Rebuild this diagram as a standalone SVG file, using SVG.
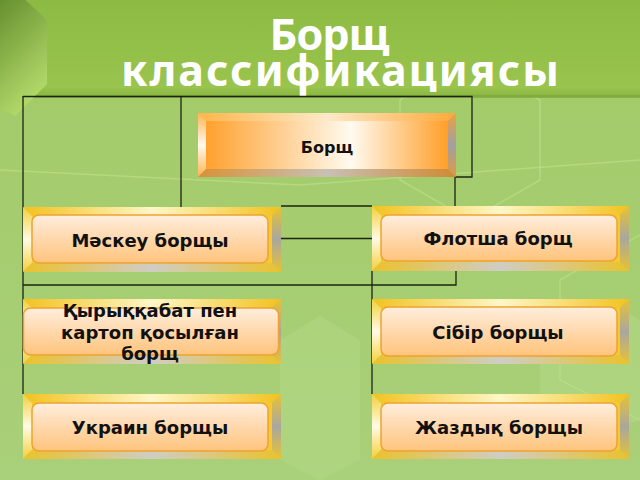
<svg xmlns="http://www.w3.org/2000/svg" width="640" height="480" viewBox="0 0 640 480">
<defs>
<linearGradient id="bg" x1="0" y1="0" x2="0" y2="1"><stop offset="0" stop-color="#a2ca66"/><stop offset="1" stop-color="#a9d07a"/></linearGradient>
<linearGradient id="banner" x1="0" y1="0" x2="0" y2="1"><stop offset="0" stop-color="#8cbb42"/><stop offset="0.9" stop-color="#99c44e"/><stop offset="1" stop-color="#88b440"/></linearGradient>
<linearGradient id="hex" x1="0" y1="0" x2="0.6" y2="1"><stop offset="0" stop-color="#567f22"/><stop offset="1" stop-color="#b2da6a"/></linearGradient>
<linearGradient id="gTop" x1="0" y1="0" x2="1" y2="0"><stop offset="0" stop-color="#f2c21e"/><stop offset="0.5" stop-color="#fff6c8"/><stop offset="1" stop-color="#f2c21e"/></linearGradient>
<linearGradient id="gLeft" x1="0" y1="0" x2="0" y2="1"><stop offset="0" stop-color="#f5cf3a"/><stop offset="0.5" stop-color="#fffbe6"/><stop offset="1" stop-color="#f5cf3a"/></linearGradient>
<linearGradient id="gRight" x1="0" y1="0" x2="0" y2="1"><stop offset="0" stop-color="#e8c233"/><stop offset="0.5" stop-color="#a9a79e"/><stop offset="1" stop-color="#e8c233"/></linearGradient>
<linearGradient id="gBot" x1="0" y1="0" x2="1" y2="0"><stop offset="0" stop-color="#ebc22c"/><stop offset="0.5" stop-color="#cfcdc4"/><stop offset="1" stop-color="#ebc22c"/></linearGradient>
<linearGradient id="peach" x1="0" y1="0" x2="0" y2="1"><stop offset="0" stop-color="#ffeedd"/><stop offset="0.5" stop-color="#ffd8ac"/><stop offset="1" stop-color="#ffc47c"/></linearGradient>
<linearGradient id="oFace" x1="0" y1="0" x2="1" y2="0"><stop offset="0" stop-color="#ffa12e"/><stop offset="0.6" stop-color="#fffaf0"/><stop offset="1" stop-color="#ff9f28"/></linearGradient>
<linearGradient id="oTop" x1="0" y1="0" x2="1" y2="0"><stop offset="0" stop-color="#ffb54a"/><stop offset="0.5" stop-color="#ffe9c8"/><stop offset="1" stop-color="#ffa83a"/></linearGradient>
<linearGradient id="oLeft" x1="0" y1="0" x2="0" y2="1"><stop offset="0" stop-color="#ffb450"/><stop offset="0.5" stop-color="#fff8ee"/><stop offset="1" stop-color="#ffb450"/></linearGradient>
<linearGradient id="oRight" x1="0" y1="0" x2="0" y2="1"><stop offset="0" stop-color="#f0a040"/><stop offset="0.5" stop-color="#a0a0a4"/><stop offset="1" stop-color="#e09a40"/></linearGradient>
<linearGradient id="oBot" x1="0" y1="0" x2="1" y2="0"><stop offset="0" stop-color="#d89238"/><stop offset="0.5" stop-color="#c8c0b4"/><stop offset="1" stop-color="#d08a34"/></linearGradient>
</defs>
<style>
.ln{fill:none;stroke:#1c2410;stroke-width:1.3}
.lbl{font-family:"DejaVu Sans",Verdana,sans-serif;font-weight:bold;font-size:18px;fill:#111;text-anchor:middle}
.lbl16{font-size:16px}
.title{font-family:"Noto Sans","Open Sans",sans-serif;font-weight:bold;font-size:43px;fill:#fff;text-anchor:middle}
.face{fill:#f6c930}
.inner{fill:url(#peach);stroke:#eda233;stroke-width:1.5}
.pat{fill:none;stroke:#c2e08e;stroke-width:1.5;opacity:0.6}
</style>
<rect width="640" height="480" fill="url(#bg)"/>
<g id="pattern">
<polygon class="pat" points="400,100 470,60 540,100 540,180 470,220 400,180"/>
<polygon class="pat" points="560,280 640,235 700,280 700,380 640,420 560,380"/>
<polygon points="280,340 320,316 360,340 360,460 320,480 280,460" fill="#b5d98a" opacity="0.45"/>
<polygon points="540,330 600,300 640,320 640,420 580,440 540,420" fill="#b8dc8e" opacity="0.4"/>
<line class="pat" x1="0" y1="170" x2="300" y2="185"/>
<line class="pat" x1="300" y1="185" x2="640" y2="160"/>
</g>
<rect x="8" y="0" width="632" height="97" fill="url(#banner)"/>
<rect x="8" y="95" width="632" height="3" fill="#7ea53c" opacity="0.7"/>
<polygon points="-25,-5 20,-5 47,20 47,84 15,116 -25,96" fill="url(#hex)"/>
<text class="title" x="329" y="50" letter-spacing="-1">Борщ</text>
<text class="title" x="341" y="86" letter-spacing="2">классификациясы</text>
<g id="connectors">
<path class="ln" d="M23,96.5 H472 V177 H455 V207"/>
<path class="ln" d="M23,96 V394"/>
<path class="ln" d="M181,96 V207"/>
<path class="ln" d="M281,206 H372"/>
<path class="ln" d="M281,238.5 H372"/>
<path class="ln" d="M23,285 H456 V271"/>
<path class="ln" d="M372,271 V394"/>
</g>
<g id="node-borshch" transform="translate(198,113)">
<rect x="8" y="8" width="242" height="48" fill="url(#oFace)"/>
<polygon points="0,0 258,0 250,8 8,8" fill="url(#oTop)"/>
<polygon points="0,0 8,8 8,56 0,64" fill="url(#oLeft)"/>
<polygon points="258,0 258,64 250,56 250,8" fill="url(#oRight)"/>
<polygon points="0,64 258,64 250,56 8,56" fill="url(#oBot)"/>
<text class="lbl lbl16" x="129" y="40">Борщ</text>
</g>
<g id="node-maskeu" transform="translate(23,207)">
<rect class="face" x="9" y="9" width="240" height="47"/>
<polygon points="0,0 258,0 249,9 9,9" fill="url(#gTop)"/>
<polygon points="0,0 9,9 9,56 0,65" fill="url(#gLeft)"/>
<polygon points="258,0 258,65 249,56 249,9" fill="url(#gRight)"/>
<polygon points="0,65 258,65 249,56 9,56" fill="url(#gBot)"/>
<rect class="inner" x="9" y="8" width="236" height="48" rx="7"/>
<text class="lbl" x="127" y="40">Мәскеу борщы</text>
</g>
<g id="node-flotsha" transform="translate(372,206)">
<rect class="face" x="9" y="9" width="240" height="47"/>
<polygon points="0,0 257,0 248,9 9,9" fill="url(#gTop)"/>
<polygon points="0,0 9,9 9,56 0,65" fill="url(#gLeft)"/>
<polygon points="257,0 257,65 248,56 248,9" fill="url(#gRight)"/>
<polygon points="0,65 257,65 248,56 9,56" fill="url(#gBot)"/>
<rect class="inner" x="9" y="9" width="236" height="46" rx="7"/>
<text class="lbl" x="126" y="39">Флотша борщ</text>
</g>
<g id="node-kyrykkabat" transform="translate(23,299)">
<rect class="face" x="9" y="9" width="240" height="47"/>
<polygon points="0,0 258,0 249,9 9,9" fill="url(#gTop)"/>
<polygon points="0,0 9,9 9,56 0,65" fill="url(#gLeft)"/>
<polygon points="258,0 258,65 249,56 249,9" fill="url(#gRight)"/>
<polygon points="0,65 258,65 249,56 9,56" fill="url(#gBot)"/>
<rect class="inner" x="0.5" y="9" width="255" height="47" rx="7"/>
<text class="lbl" x="127" y="18">Қырыққабат пен</text>
<text class="lbl" x="127" y="40">картоп қосылған</text>
<text class="lbl" x="127" y="61">борщ</text>
</g>
<g id="node-sibir" transform="translate(372,299)">
<rect class="face" x="9" y="9" width="240" height="47"/>
<polygon points="0,0 257,0 248,9 9,9" fill="url(#gTop)"/>
<polygon points="0,0 9,9 9,56 0,65" fill="url(#gLeft)"/>
<polygon points="257,0 257,65 248,56 248,9" fill="url(#gRight)"/>
<polygon points="0,65 257,65 248,56 9,56" fill="url(#gBot)"/>
<rect class="inner" x="9" y="8" width="236" height="49" rx="7"/>
<text class="lbl" x="126" y="40">Сібір борщы</text>
</g>
<g id="node-ukrain" transform="translate(23,394)">
<rect class="face" x="9" y="9" width="240" height="47"/>
<polygon points="0,0 258,0 249,9 9,9" fill="url(#gTop)"/>
<polygon points="0,0 9,9 9,56 0,65" fill="url(#gLeft)"/>
<polygon points="258,0 258,65 249,56 249,9" fill="url(#gRight)"/>
<polygon points="0,65 258,65 249,56 9,56" fill="url(#gBot)"/>
<rect class="inner" x="9" y="9" width="236" height="48" rx="7"/>
<text class="lbl" x="127" y="40">Украин борщы</text>
</g>
<g id="node-zhazdyk" transform="translate(372,394)">
<rect class="face" x="9" y="9" width="240" height="47"/>
<polygon points="0,0 257,0 248,9 9,9" fill="url(#gTop)"/>
<polygon points="0,0 9,9 9,56 0,65" fill="url(#gLeft)"/>
<polygon points="257,0 257,65 248,56 248,9" fill="url(#gRight)"/>
<polygon points="0,65 257,65 248,56 9,56" fill="url(#gBot)"/>
<rect class="inner" x="9" y="9" width="236" height="48" rx="7"/>
<text class="lbl" x="127" y="40">Жаздық борщы</text>
</g>
</svg>
